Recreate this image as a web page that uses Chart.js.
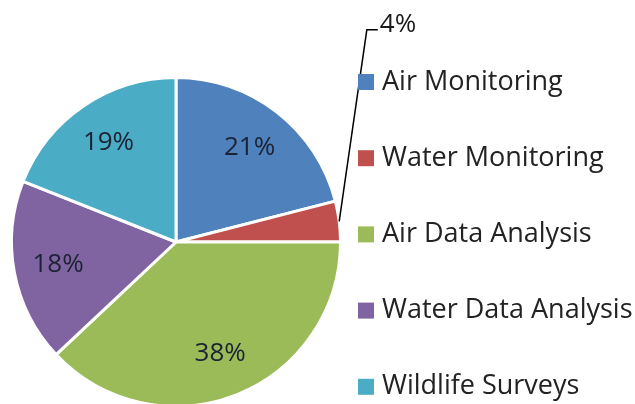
<!DOCTYPE html>
<html>
<head>
<meta charset="utf-8">
<script src="https://cdn.jsdelivr.net/npm/chart.js@4.4.0/dist/chart.umd.min.js"></script>
<style>
html,body{margin:0;padding:0;background:#fff;overflow:hidden;}
#wrap{width:635px;height:404px;position:relative;overflow:hidden;}
canvas{display:block;}
</style>
</head>
<body>
<div id="wrap"><canvas id="c" width="635" height="408"></canvas></div>
<script>
const categories = ["Air Monitoring", "Water Monitoring", "Air Data Analysis", "Water Data Analysis", "Wildlife Surveys"];
const shares = [21, 4, 38, 18, 19];
const sliceColors = ["#4F81BD", "#C0504D", "#9BBB59", "#8064A2", "#4BACC6"];

const FONT = "'Open Sans', 'Liberation Sans', sans-serif";

const labelPlugin = {
  id: 'sliceLabels',
  afterDatasetsDraw(chart) {
    const ctx = chart.ctx;
    const meta = chart.getDatasetMeta(0);
    ctx.save();
    ctx.font = "26px " + FONT;
    ctx.textBaseline = 'middle';
    meta.data.forEach((arc, i) => {
      const v = shares[i];
      const mid = (arc.startAngle + arc.endAngle) / 2;
      const txt = v + '%';
      if (v < 8) {
        const px = arc.x + Math.cos(mid) * arc.outerRadius;
        const py = arc.y + Math.sin(mid) * arc.outerRadius;
        const ex = arc.x + arc.outerRadius * 1.16;
        const ey = arc.y - arc.outerRadius * 1.29;
        ctx.strokeStyle = '#000';
        ctx.lineWidth = 1.5;
        ctx.beginPath();
        ctx.moveTo(px, py);
        ctx.lineTo(ex, ey);
        ctx.lineTo(ex + 11, ey);
        ctx.stroke();
        ctx.fillStyle = '#1a1a1a';
        ctx.textAlign = 'left';
        ctx.fillText(txt, ex + 13, ey - 5);
      } else {
        const r = arc.outerRadius * 0.73;
        ctx.fillStyle = '#1b2233';
        ctx.textAlign = 'center';
        ctx.fillText(txt, arc.x + Math.cos(mid) * r, arc.y + Math.sin(mid) * r);
      }
    });
    ctx.restore();
  }
};

const legendPlugin = {
  id: 'sideLegend',
  afterDraw(chart) {
    const ctx = chart.ctx;
    ctx.save();
    ctx.font = "27px " + FONT;
    ctx.textBaseline = 'middle';
    ctx.textAlign = 'left';
    const x0 = 358, y0 = 82, step = 76.2, box = 16;
    categories.forEach((name, i) => {
      const y = y0 + i * step;
      ctx.fillStyle = sliceColors[i];
      ctx.fillRect(x0, y - box / 2, box, box);
      ctx.fillStyle = '#222222';
      ctx.fillText(name, x0 + 24, y);
    });
    ctx.restore();
  }
};

new Chart(document.getElementById('c'), {
  type: 'pie',
  data: {
    labels: categories,
    datasets: [{
      data: shares,
      backgroundColor: sliceColors,
      borderColor: '#ffffff',
      borderWidth: 3
    }]
  },
  options: {
    responsive: false,
    animation: false,
    events: [],
    layout: { padding: { left: 10, right: 293, top: 76, bottom: 0 } },
    plugins: { legend: { display: false }, tooltip: { enabled: false } }
  },
  plugins: [labelPlugin, legendPlugin]
});
</script>
</body>
</html>
